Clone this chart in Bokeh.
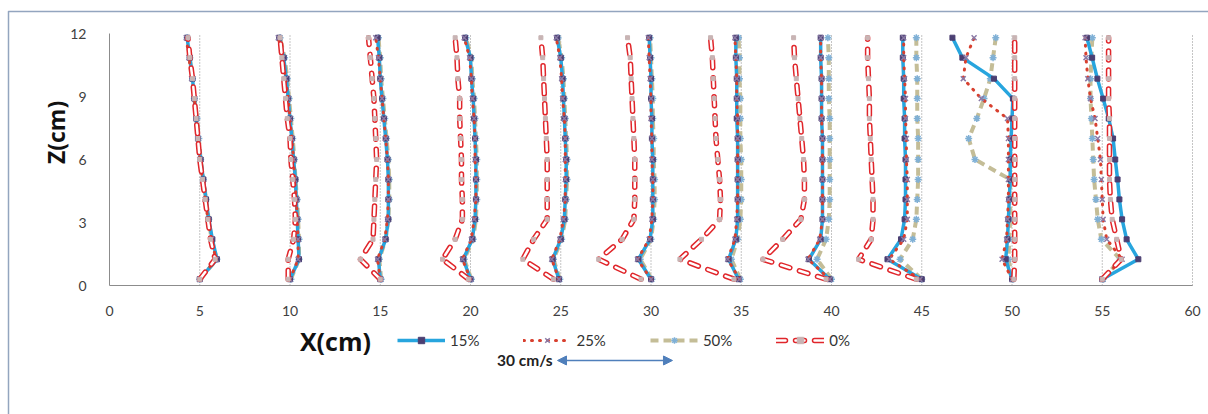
from math import pi

from bokeh.plotting import figure
from bokeh.models import (FixedTicker, Label, Legend, LegendItem, Arrow, LinearAxis,
                          NormalHead, Range1d)
from bokeh.embed import file_html
from bokeh.resources import INLINE

# Measuring stations along the flume (cm) and the depths of the velocity readings (cm)
stations = [5, 10, 15, 20, 25, 30, 35, 40, 45, 50, 55]
z_cm = [0.3, 1.25, 2.2, 3.15, 4.1, 5.05, 6.0, 7.0, 7.95, 8.9, 9.85, 10.85, 11.8]

# Horizontal offset of each velocity profile from its station line (cm), listed bottom to top
dx_15 = [
    [0.0, 0.95, 0.7, 0.5, 0.35, 0.2, 0.05, -0.1, -0.2, -0.3, -0.4, -0.55, -0.7],
    [0.0, 0.5, 0.45, 0.4, 0.35, 0.3, 0.2, 0.1, 0.0, -0.1, -0.2, -0.35, -0.6],
    [0.0, -0.1, 0.3, 0.45, 0.45, 0.45, 0.4, 0.3, 0.2, 0.1, 0.0, -0.05, -0.15],
    [0.0, -0.4, 0.1, 0.25, 0.3, 0.3, 0.3, 0.25, 0.2, 0.15, 0.05, 0.0, -0.3],
    [-0.1, -0.45, 0.0, 0.2, 0.25, 0.3, 0.3, 0.25, 0.2, 0.15, 0.1, 0.0, -0.2],
    [0.0, -0.7, -0.05, 0.1, 0.1, 0.1, 0.1, 0.05, 0.05, 0.0, 0.0, -0.05, -0.1],
    [-0.15, -0.7, -0.3, -0.2, -0.2, -0.2, -0.2, -0.2, -0.25, -0.25, -0.25, -0.3, -0.3],
    [-0.1, -1.25, -0.6, -0.5, -0.5, -0.5, -0.5, -0.5, -0.55, -0.55, -0.55, -0.6, -0.6],
    [0.0, -1.9, -1.15, -0.95, -0.9, -0.9, -0.9, -0.95, -0.95, -1.0, -1.0, -1.05, -1.05],
    [0.0, -0.35, -0.25, -0.2, -0.15, -0.1, -0.1, -0.05, 0.0, 0.05, -1.0, -2.75, -3.3],
    [0.0, 2.0, 1.35, 1.1, 0.95, 0.85, 0.72, 0.6, 0.36, 0.05, -0.27, -0.56, -0.85],
]
dx_25 = [
    [0.0, 0.9, 0.65, 0.45, 0.3, 0.15, 0.0, -0.1, -0.2, -0.3, -0.45, -0.6, -0.75],
    [0.0, 0.45, 0.45, 0.4, 0.35, 0.25, 0.2, 0.1, 0.0, -0.1, -0.25, -0.4, -0.65],
    [0.0, -0.15, 0.25, 0.4, 0.45, 0.45, 0.4, 0.3, 0.2, 0.1, 0.0, -0.1, -0.25],
    [0.0, -0.45, 0.05, 0.2, 0.3, 0.3, 0.25, 0.25, 0.2, 0.1, 0.05, -0.05, -0.35],
    [-0.1, -0.5, -0.05, 0.15, 0.25, 0.25, 0.25, 0.25, 0.2, 0.1, 0.05, -0.05, -0.25],
    [0.0, -0.75, -0.1, 0.05, 0.1, 0.1, 0.05, 0.05, 0.0, 0.0, -0.05, -0.1, -0.15],
    [-0.1, -0.75, -0.35, -0.25, -0.2, -0.2, -0.2, -0.2, -0.2, -0.25, -0.25, -0.3, -0.35],
    [-0.1, -1.3, -0.65, -0.5, -0.5, -0.5, -0.5, -0.5, -0.55, -0.55, -0.55, -0.6, -0.6],
    [-0.1, -1.8, -1.0, -0.8, -0.8, -0.8, -0.85, -0.85, -0.9, -0.9, -0.95, -1.0, -1.0],
    [0.0, -0.55, -0.3, -0.25, -0.2, -0.2, -0.2, -0.2, -0.25, -1.7, -2.7, -2.55, -2.1],
    [0.0, 1.1, 0.25, 0.05, 0.0, -0.05, -0.1, -0.25, -0.4, -0.65, -0.8, -0.9, -0.95],
]
dx_50 = [
    [0.0, 0.95, 0.65, 0.5, 0.35, 0.2, 0.05, -0.05, -0.15, -0.3, -0.4, -0.55, -0.7],
    [0.05, 0.5, 0.5, 0.45, 0.4, 0.3, 0.25, 0.15, 0.05, -0.05, -0.15, -0.3, -0.55],
    [0.05, -0.05, 0.3, 0.45, 0.5, 0.5, 0.45, 0.35, 0.25, 0.15, 0.05, 0.0, -0.1],
    [0.05, -0.35, 0.15, 0.3, 0.35, 0.35, 0.35, 0.3, 0.25, 0.2, 0.1, 0.05, -0.25],
    [-0.05, -0.4, 0.05, 0.25, 0.3, 0.35, 0.35, 0.3, 0.25, 0.2, 0.15, 0.05, -0.15],
    [0.05, -0.6, 0.0, 0.15, 0.2, 0.2, 0.15, 0.15, 0.1, 0.1, 0.05, 0.0, -0.05],
    [-0.05, -0.55, -0.2, -0.05, 0.0, 0.0, 0.0, -0.05, -0.05, -0.05, -0.1, -0.1, -0.15],
    [0.0, -0.8, -0.3, -0.15, -0.1, -0.1, -0.1, -0.1, -0.1, -0.15, -0.15, -0.15, -0.2],
    [0.0, -1.2, -0.5, -0.3, -0.25, -0.2, -0.2, -0.2, -0.25, -0.25, -0.25, -0.3, -0.3],
    [0.05, -0.2, -0.15, -0.1, -0.1, -0.1, -2.05, -2.4, -1.95, -1.55, -1.2, -1.05, -0.9],
    [0.05, 1.0, -0.05, -0.25, -0.35, -0.45, -0.5, -0.55, -0.6, -0.65, -0.65, -0.6, -0.55],
]
dx_0 = [
    [0.0, 0.85, 0.6, 0.45, 0.3, 0.15, 0.0, -0.1, -0.2, -0.3, -0.4, -0.55, -0.65],
    [-0.1, -0.1, 0.2, 0.3, 0.25, 0.15, 0.05, 0.0, -0.15, -0.25, -0.35, -0.45, -0.55],
    [0.0, -1.1, -0.4, -0.35, -0.3, -0.25, -0.2, -0.25, -0.3, -0.35, -0.45, -0.55, -0.65],
    [-0.1, -1.55, -0.85, -0.45, -0.45, -0.5, -0.5, -0.55, -0.6, -0.6, -0.7, -0.75, -0.85],
    [-0.4, -2.1, -1.5, -0.75, -0.75, -0.75, -0.75, -0.8, -0.85, -0.9, -0.95, -1.0, -1.1],
    [-0.55, -2.9, -1.6, -0.95, -0.9, -0.9, -0.9, -0.95, -1.0, -1.05, -1.1, -1.15, -1.3],
    [-0.4, -3.4, -2.2, -1.2, -1.15, -1.2, -1.3, -1.4, -1.45, -1.5, -1.55, -1.6, -1.7],
    [-0.3, -3.8, -2.7, -1.7, -1.5, -1.5, -1.55, -1.65, -1.75, -1.85, -1.95, -2.05, -2.1],
    [-0.3, -3.5, -2.8, -2.7, -2.7, -2.75, -2.8, -2.85, -2.9, -2.9, -2.95, -3.0, -3.0],
    [0.1, 0.15, 0.15, 0.15, 0.15, 0.15, 0.15, 0.15, 0.15, 0.15, 0.15, 0.15, 0.15],
    [0.0, 1.05, 0.8, 0.55, 0.45, 0.4, 0.4, 0.4, 0.4, 0.35, 0.35, 0.35, 0.35],
]

series_labels = ["15%", "25%", "50%", "0%"]
x_ticks = [0, 5, 10, 15, 20, 25, 30, 35, 40, 45, 50, 55, 60]
z_ticks = [0, 3, 6, 9, 12]
x_span = (0, 60)
z_span = (0, 12)
scale_text = "30 cm/s"

TICK_FONT = "Lato"
TITLE_FONT = "Open Sans"

# canvas geometry: the data frame fills the whole canvas, axes sit at fixed locations
W, H = 1208, 414
PX_PER_CM_X = 18.05
PX_PER_CM_Z = 21.0
LEFT_PX, BOTTOM_PX = 109, 129


def profile_xs(offsets):
    return [[s + d for d in row] for s, row in zip(stations, offsets)]


def flat(xs):
    return [v for row in xs for v in row]


x0 = x_span[0] - LEFT_PX / PX_PER_CM_X
z0 = z_span[0] - BOTTOM_PX / PX_PER_CM_Z
p = figure(width=W, height=H, output_backend="svg", toolbar_location=None,
           x_range=Range1d(x0, x0 + W / PX_PER_CM_X),
           y_range=Range1d(z0, z0 + H / PX_PER_CM_Z),
           x_axis_location=None, y_axis_location=None,
           min_border=0)
p.outline_line_color = None
p.background_fill_color = "white"
p.border_fill_color = "white"
p.xgrid.grid_line_color = None
p.ygrid.grid_line_color = None

# chart border (left and top edges; the others run past the canvas)
bx = x0 + 8 / PX_PER_CM_X
by = z0 + (H - 11) / PX_PER_CM_Z
p.line(x=[bx, bx, x0 + (W + 40) / PX_PER_CM_X], y=[z0 - 2, by, by],
       line_color="#93a5bf", line_width=1.5, line_join="round")

# dotted station lines
grid_x = x_ticks[1:]
p.segment(x0=grid_x, x1=grid_x, y0=[z_span[0]] * len(grid_x), y1=[z_span[1]] * len(grid_x),
          line_color="#8a8a8a", line_dash="1 2", line_width=1)

# axes
xaxis = LinearAxis(fixed_location=z_span[0], bounds=x_span,
                   ticker=FixedTicker(ticks=x_ticks), major_label_standoff=14)
yaxis = LinearAxis(fixed_location=x_span[0], bounds=z_span,
                   ticker=FixedTicker(ticks=z_ticks), major_label_standoff=17)
for ax in (xaxis, yaxis):
    ax.axis_line_color = "#8c8c8c"
    ax.axis_line_width = 1
    ax.major_tick_line_color = None
    ax.minor_tick_line_color = None
    ax.major_label_text_font = TICK_FONT
    ax.major_label_text_font_size = "14px"
    ax.major_label_text_color = "#404040"
p.add_layout(xaxis, "below")
p.add_layout(yaxis, "left")

ys = [z_cm] * len(stations)
z_flat = z_cm * len(stations)

# 50 %
xs50 = profile_xs(dx_50)
r50 = p.multi_line(xs=xs50, ys=ys, line_color="#c4bd97", line_width=4, line_dash="8 5")
m50 = p.scatter(x=flat(xs50), y=z_flat, marker="asterisk", size=7,
                line_color="#7fb0d6", line_width=1.5)

# 15 %
xs15 = profile_xs(dx_15)
r15 = p.multi_line(xs=xs15, ys=ys, line_color="#27a5de", line_width=3.5, line_join="round")
m15 = p.scatter(x=flat(xs15), y=z_flat, marker="square", size=5,
                fill_color="#4b3f72", line_color="#4b3f72")

# 25 %
xs25 = profile_xs(dx_25)
r25 = p.multi_line(xs=xs25, ys=ys, line_color="#d8402f", line_width=3, line_dash="1 7",
                   line_cap="round")
m25 = p.scatter(x=flat(xs25), y=z_flat, marker="x", size=7,
                line_color="#8a7aa6", line_width=1.5)

# 0 %  (hollow red dashes)
xs0 = profile_xs(dx_0)
r0a = p.multi_line(xs=xs0, ys=ys, line_color="#e0262b", line_width=5.5, line_dash="9 10",
                   line_cap="round")
r0b = p.multi_line(xs=xs0, ys=ys, line_color="white", line_width=2.5, line_dash="9 10",
                   line_cap="round")
m0 = p.scatter(x=flat(xs0), y=z_flat, marker="square", size=4,
               fill_color="#c8b4b4", line_color="#c8b4b4")

legend = Legend(items=[
    LegendItem(label=series_labels[0], renderers=[r15, m15]),
    LegendItem(label=series_labels[1], renderers=[r25, m25]),
    LegendItem(label=series_labels[2], renderers=[r50, m50]),
    LegendItem(label=series_labels[3], renderers=[r0a, r0b, m0]),
], orientation="horizontal", location=(397, H - 350), glyph_width=48, glyph_height=16,
    label_standoff=5, spacing=44, padding=0, margin=0, border_line_color=None,
    background_fill_alpha=0, label_text_font=TICK_FONT, label_text_font_size="15px",
    label_text_color="#333333", label_height=20)
p.add_layout(legend)

# axis titles
p.add_layout(Label(x=-2.99, y=7.29, text="Z(cm)", angle=pi / 2, text_align="center",
                   text_baseline="middle", text_font=TITLE_FONT, text_font_style="bold",
                   text_font_size="23px", text_color="#111111"))
p.add_layout(Label(x=10.55, y=-2.65, text="X(cm)", text_align="left",
                   text_baseline="middle", text_font=TITLE_FONT, text_font_style="bold",
                   text_font_size="25px", text_color="#111111"))

# velocity scale
p.add_layout(Label(x=24.55, y=-3.57, text=scale_text, text_align="right",
                   text_baseline="middle", text_font=TICK_FONT, text_font_style="bold",
                   text_font_size="15.5px", text_color="#222222"))
head = dict(size=9, fill_color="#4f7fbb", line_color="#4f7fbb")
p.add_layout(Arrow(x_start=24.82, y_start=-3.57, x_end=31.19, y_end=-3.57,
                   line_color="#4f7fbb", line_width=1.5,
                   start=NormalHead(**head), end=NormalHead(**head)))

open("out.html", "w").write(file_html(p, INLINE))
